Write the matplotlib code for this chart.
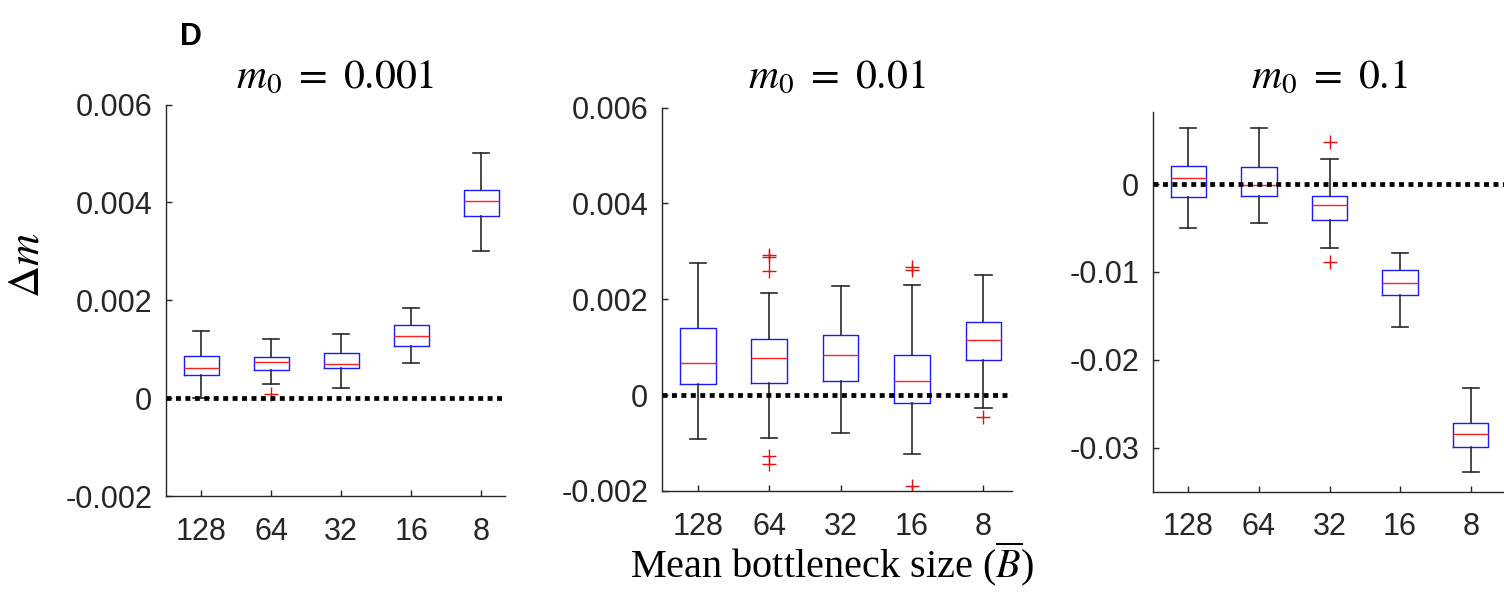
import numpy as np
import matplotlib.pyplot as plt

plt.rcParams['font.family'] = ['Liberation Sans', 'DejaVu Sans']
plt.rcParams['mathtext.fontset'] = 'stix'
plt.rcParams['axes.unicode_minus'] = False

bottleneck = ['128', '64', '32', '16', '8']
m0_values = ['0.001', '0.01', '0.1']

# box stats per panel, in units of 1e-3
lo_a = [0.00, 0.28, 0.21, 0.72, 3.00]
q1_a = [0.47, 0.58, 0.61, 1.07, 3.73]
med_a = [0.62, 0.73, 0.70, 1.26, 4.03]
q3_a = [0.87, 0.85, 0.93, 1.49, 4.25]
hi_a = [1.38, 1.20, 1.31, 1.84, 5.00]
out_a = [[], [0.09], [], [], []]

lo_b = [-0.92, -0.90, -0.79, -1.23, -0.27]
q1_b = [0.23, 0.25, 0.29, -0.16, 0.74]
med_b = [0.66, 0.77, 0.84, 0.30, 1.15]
q3_b = [1.39, 1.18, 1.25, 0.83, 1.52]
hi_b = [2.75, 2.14, 2.28, 2.30, 2.51]
out_b = [[], [2.93, 2.88, 2.58, -1.27, -1.44], [], [2.68, 2.60, -1.90], [-0.46]]

lo_c = [-4.96, -4.46, -7.23, -16.31, -32.80]
q1_c = [-1.48, -1.32, -4.09, -12.64, -29.89]
med_c = [0.72, -0.11, -2.42, -11.24, -28.49]
q3_c = [2.00, 1.90, -1.32, -9.76, -27.17]
hi_c = [6.40, 6.40, 2.84, -7.83, -23.19]
out_c = [[], [], [4.73, -8.89], [], []]

panels = [(lo_a, q1_a, med_a, q3_a, hi_a, out_a),
          (lo_b, q1_b, med_b, q3_b, hi_b, out_b),
          (lo_c, q1_c, med_c, q3_c, hi_c, out_c)]

W, H = 1504, 592
fig = plt.figure(figsize=(W / 100, H / 100), dpi=100)

# axes boxes in pixels: left, right, top, bottom
boxes = [(166, 505, 104.5, 496), (662, 1012, 107.5, 491), (1153, 1506, 112, 491.5)]
xlims = [(0.5, 5.34), (0.5, 5.4), (0.5, 5.5)]
ylims = [(-0.002, 0.006), (-0.002, 0.006), (-0.035, 0.0082)]
yticks = [[-0.002, 0, 0.002, 0.004, 0.006], [-0.002, 0, 0.002, 0.004, 0.006], [-0.03, -0.02, -0.01, 0]]
ylabels = [['-0.002', '0', '0.002', '0.004', '0.006'], ['-0.002', '0', '0.002', '0.004', '0.006'],
           ['-0.03', '-0.02', '-0.01', '0']]

axis_col = '#262626'

for i, (lo, q1, med, q3, hi, out) in enumerate(panels):
    l, r, t, b = boxes[i]
    ax = fig.add_axes([l / W, (H - b) / H, (r - l) / W, (b - t) / H])

    stats = [dict(whislo=lo[k] * 1e-3, q1=q1[k] * 1e-3, med=med[k] * 1e-3, q3=q3[k] * 1e-3,
                  whishi=hi[k] * 1e-3, fliers=np.array(out[k]) * 1e-3) for k in range(5)]
    ax.bxp(stats, positions=range(1, 6), widths=0.5, capwidths=0.23,
           boxprops=dict(color='#1a1aff', lw=1.0),
           medianprops=dict(color='#ff2020', lw=1.0),
           whiskerprops=dict(color='#2a2a2a', lw=1.2),
           capprops=dict(color='#2a2a2a', lw=1.2),
           flierprops=dict(marker='+', markeredgecolor='#e01010', markersize=10,
                           markeredgewidth=1.0, linestyle='none'))
    ax.axhline(0, color='black', lw=3.4, linestyle=(0, (1.05, 0.95)), zorder=4)

    ax.set_xlim(*xlims[i])
    ax.set_ylim(*ylims[i])
    ax.set_xticks(range(1, 6))
    ax.set_xticklabels(bottleneck)
    ax.set_yticks(yticks[i])
    ax.set_yticklabels(ylabels[i])
    for s in ['top', 'right']:
        ax.spines[s].set_visible(False)
    for s in ['left', 'bottom']:
        ax.spines[s].set_color(axis_col)
        ax.spines[s].set_linewidth(1.0)
    ax.tick_params(axis='x', direction='in', length=4, width=1, colors=axis_col,
                   labelsize=22, pad=15)
    ax.tick_params(axis='y', direction='in', length=4, width=1, colors=axis_col,
                   labelsize=22, pad=10)

    fig.text((l + r) / 2 / W, 1 - 88 / H, r'$m_0\ =\ %s$' % m0_values[i],
             ha='center', va='baseline', fontsize=30, color='black')

fig.text(180 / W, 1 - 45 / H, 'D', fontsize=22, fontweight='bold', ha='left', va='baseline')
fig.text(27 / W, 1 - 265 / H, r'$\Delta m$', fontsize=32, rotation=90, ha='center', va='center')
fig.text(832 / W, 3 / H, r'Mean bottleneck size ($\overline{B}$)', fontsize=29,
         family=['Liberation Serif', 'DejaVu Serif'], ha='center', va='bottom')

fig.savefig('out.png', dpi=100)
